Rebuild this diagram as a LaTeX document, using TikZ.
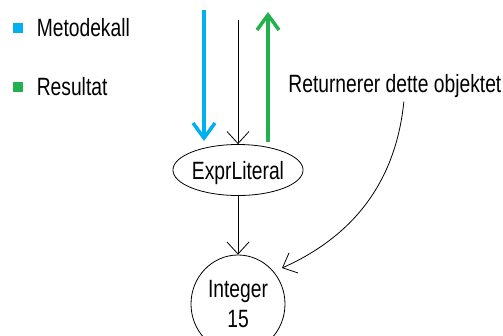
\documentclass[tikz,border=0pt]{standalone}
\usepackage{fontspec}
\setmainfont{Liberation Sans}[FakeStretch=0.77]
\usetikzlibrary{arrows.meta, positioning, shapes.geometric}
\definecolor{kall}{HTML}{00B0F0}
\definecolor{resultat}{HTML}{22B14C}

\begin{document}
\begin{tikzpicture}[x=1pt, y=-1pt, line width=0.8pt,
        font=\fontsize{25}{30}\selectfont,
        obj/.style={draw, ellipse, inner sep=0pt},
        tekst/.style={inner sep=0pt},
        merke/.style={minimum size=10pt, inner sep=0pt},
        barb/.style={-{Straight Barb[length=12pt, width=22pt]}},
        tykk/.style={line width=3.5pt, -{Straight Barb[length=15pt, width=22pt]}}]
    \useasboundingbox (0,0) rectangle (503,335);

    % forklaring
    \node[merke, fill=kall] (kallmerke) at (18,28) {};
    \node[tekst, right=13pt of kallmerke] (kalltekst) {Metodekall};
    \node[merke, fill=resultat] (resmerke) at (18,87) {};
    \node[tekst, right=13pt of resmerke] (restekst) {Resultat};

    % objekter
    \node[obj, text depth=0pt, minimum width=126pt, minimum height=51pt] (expr) at (238,170) {ExprLiteral};
    \node[obj, minimum width=94pt, minimum height=98pt, align=center] (int) at (238,304) {Integer\\15};

    \coordinate (inn) at (238,20);
    \draw[barb] (inn) -- (expr.north);
    \draw[barb] (expr) -- (int);

    % kall ned og resultat opp
    \coordinate (kallstart) at (204,10);
    \coordinate (kallslutt) at (204,141);
    \draw[tykk, kall] (kallstart) -- (kallslutt);
    \coordinate (resstart) at (268,142);
    \coordinate (resslutt) at (268,12);
    \draw[tykk, resultat] (resstart) -- (resslutt);

    \node[tekst, anchor=west] (merknad) at (288,86.5) {Returnerer dette objektet};
    \coordinate (maal) at (282,268);
    \draw[barb] ([xshift=9pt, yshift=-3pt]merknad.south) .. controls (395,190) and (345,240) .. (maal);
\end{tikzpicture}
\end{document}
